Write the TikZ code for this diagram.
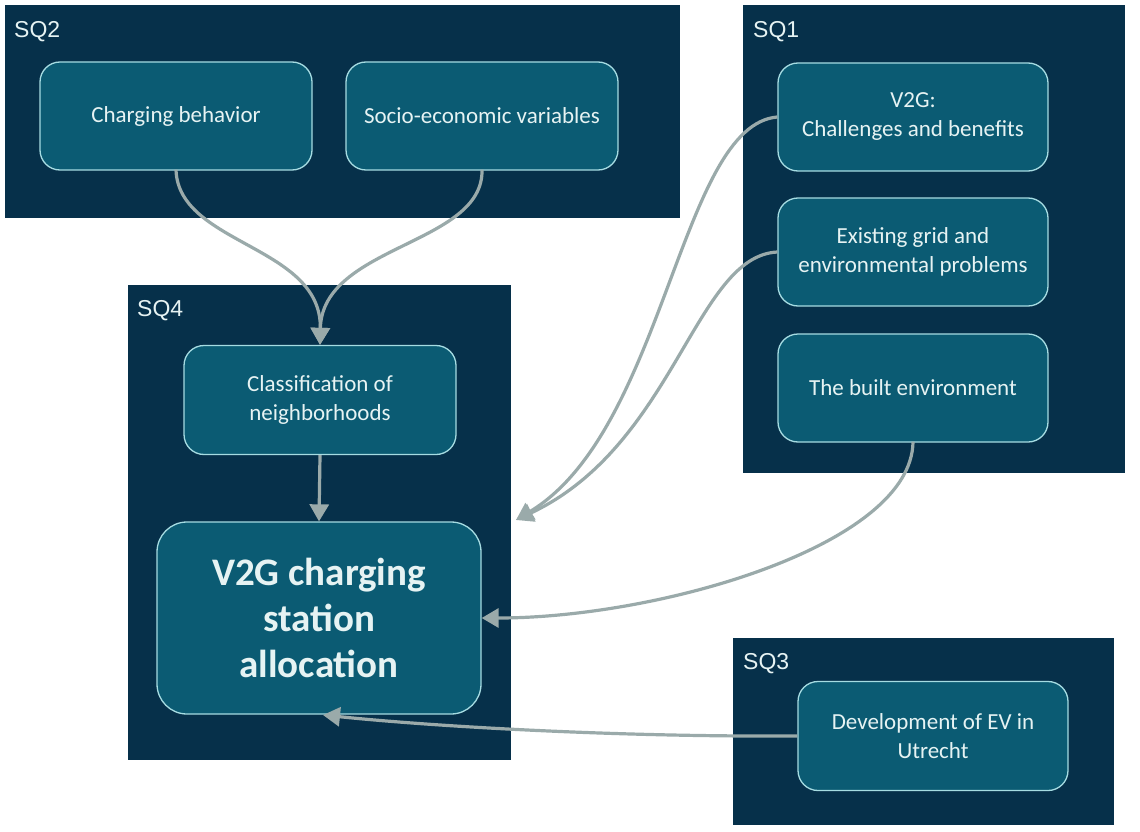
\documentclass[tikz,border=0pt]{standalone}
\usepackage{fontspec}
\setmainfont{Carlito}
\newfontfamily\sqfont{Liberation Sans}
\usetikzlibrary{arrows.meta,calc}
\definecolor{navy}{HTML}{06304A}
\definecolor{teal}{HTML}{0B5B73}
\definecolor{rim}{HTML}{A6DCE2}
\definecolor{ink}{HTML}{E6F3F3}
\definecolor{link}{HTML}{9AAAAA}
\tikzset{
  group/.style={fill=navy, draw=none, anchor=north west, inner sep=0pt},
  grouplabel/.style={anchor=north west, inner sep=0pt, text=ink, font=\sqfont\fontsize{23}{26}\selectfont},
  topic/.style={fill=teal, draw=rim, line width=1.3pt, rounded corners=20pt,
    text=ink, align=center, minimum width=270pt, minimum height=108pt,
    font=\fontsize{23}{29}\selectfont},
  goal/.style={topic, rounded corners=30pt, minimum width=324pt, minimum height=192pt,
    font=\bfseries\fontsize{39}{46}\selectfont},
  flow/.style={draw=link, line width=3.2pt, -{Triangle[width=19pt,length=17pt]}},
}
\begin{document}
\begin{tikzpicture}[x=1pt,y=-1pt]
  \useasboundingbox (0,0) rectangle (1140,832);
  \fill[white] (0,0) rectangle (1140,832);

  % question groups
  \node[group, minimum width=675pt, minimum height=213pt] (sq2) at (5,5) {};
  \node[group, minimum width=382pt, minimum height=468pt] (sq1) at (743,5) {};
  \node[group, minimum width=383pt, minimum height=475pt] (sq4) at (128,285) {};
  \node[group, minimum width=381pt, minimum height=187pt] (sq3) at (733,638) {};
  \node[grouplabel] (l2) at (14,21) {SQ2};
  \node[grouplabel] (l1) at (753,21) {SQ1};
  \node[grouplabel] (l4) at (137,300) {SQ4};
  \node[grouplabel] (l3) at (743,653) {SQ3};

  % topics
  \node[topic, minimum width=272pt] (cb) at (176,116) {Charging behavior};
  \node[topic, minimum width=272pt] (se) at (482,116) {Socio-economic variables};
  \node[topic] (ch) at (913,117) {V2G:\\Challenges and benefits};
  \node[topic] (gr) at (913,252) {Existing grid and\\environmental problems};
  \node[topic] (be) at (913,388) {The built environment};
  \node[topic, minimum width=272pt, minimum height=109pt] (cl) at (320,400) {Classification of\\neighborhoods};
  \node[goal] (v2g) at (319,618) {V2G charging\\station\\allocation};
  \node[topic, minimum height=109pt] (ev) at (933,736) {Development of EV in\\Utrecht};

  % arrival points
  \coordinate (sq4in) at (516,520);
  \coordinate (v2gfoot) at (323,715);

  % connectors
  \draw[flow] ($(cb.south)+(0,-1)$) .. controls (178,245) and (322,245) .. (cl.north);
  \draw[flow] ($(se.south)+(0,-1)$) .. controls (484,245) and (322,245) .. (cl.north);
  \draw[flow] (cl.south) -- (v2g.north);
  \draw[flow] (ch.west) .. controls (680,125) and (665,430) .. (sq4in);
  \draw[flow] (gr.west) .. controls (695,256) and (675,445) .. (sq4in);
  \draw[flow] ($(be.south)+(0,-1)$) .. controls (912,545) and (660,618) .. (v2g.east);
  \draw[flow] (ev.west) .. controls (620,737) and (440,727) .. (v2gfoot);
\end{tikzpicture}
\end{document}
